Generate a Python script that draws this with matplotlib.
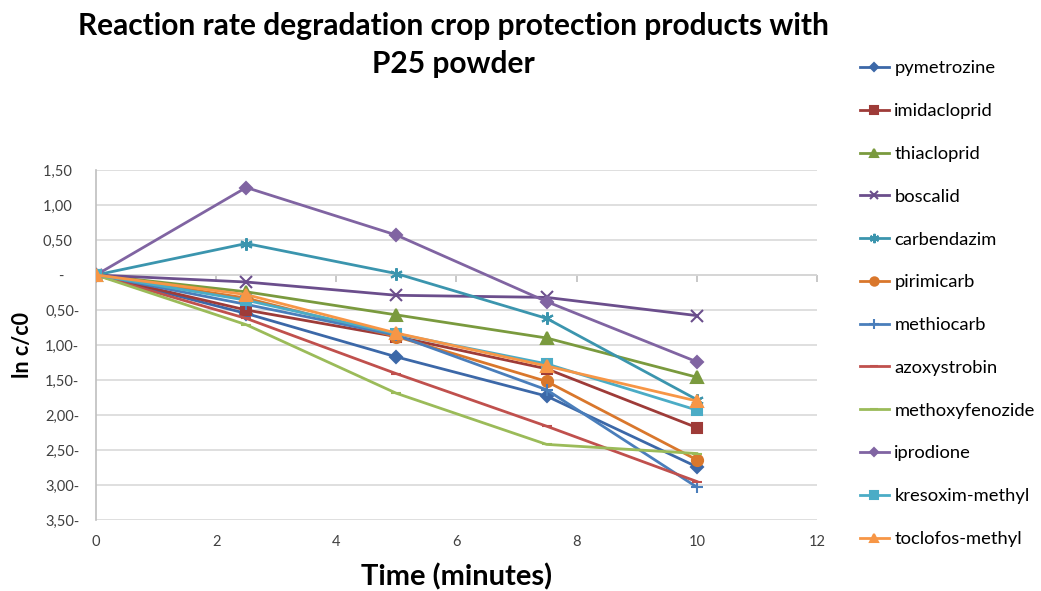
import matplotlib
matplotlib.use("Agg")
import matplotlib.pyplot as plt
from matplotlib.ticker import FixedLocator, FuncFormatter

plt.rcParams['font.family'] = ['Lato', 'DejaVu Sans']

# Sampling times (minutes)
time_min = [0, 2.5, 5, 7.5, 10]

# ln(c/c0) per compound
pymetrozine = [0, -0.55, -1.17, -1.73, -2.74]
imidacloprid = [0, -0.50, -0.88, -1.34, -2.18]
thiacloprid = [0, -0.24, -0.57, -0.90, -1.46]
boscalid = [0, -0.10, -0.29, -0.32, -0.58]
carbendazim = [0, 0.45, 0.02, -0.62, -1.78]
pirimicarb = [0, -0.33, -0.88, -1.52, -2.64]
methiocarb = [0, -0.42, -0.86, -1.64, -3.03]
azoxystrobin = [0, -0.62, -1.41, -2.16, -2.95]
methoxyfenozide = [0, -0.71, -1.69, -2.42, -2.55]
iprodione = [0, 1.25, 0.57, -0.38, -1.24]
kresoxim_methyl = [0, -0.36, -0.84, -1.27, -1.93]
toclofos_methyl = [0, -0.28, -0.83, -1.30, -1.80]

names = ["pymetrozine", "imidacloprid", "thiacloprid", "boscalid", "carbendazim",
         "pirimicarb", "methiocarb", "azoxystrobin", "methoxyfenozide", "iprodione",
         "kresoxim-methyl", "toclofos-methyl"]
series = [pymetrozine, imidacloprid, thiacloprid, boscalid, carbendazim,
          pirimicarb, methiocarb, azoxystrobin, methoxyfenozide, iprodione,
          kresoxim_methyl, toclofos_methyl]

colors = ["#3C68A8", "#9E3B38", "#7A9A3E", "#6B4E8C", "#3B95AE", "#D9772C",
          "#4A7EBB", "#C0504D", "#9BBB59", "#8064A2", "#4BACC6", "#F79646"]
markers = ["D", "s", "^", "x", (6, 2, 0), "o", "+", "_", "_", "D", "s", "^"]
msizes = [6, 7, 8, 8, 9, 8, 9, 7, 7, 6, 7, 8]

fig = plt.figure(figsize=(10.41, 5.91), dpi=100)
ax = fig.add_axes([96 / 1041, 1 - 520 / 591, (817 - 96) / 1041, (520 - 170) / 591])

for name, vals, c, m, ms in zip(names, series, colors, markers, msizes):
    ax.plot(time_min, vals, color=c, lw=2, marker=m, ms=ms, mew=1.5,
            mec=c, mfc=c, label=name, zorder=3)

ax.set_xlim(0, 12)
ax.set_ylim(-3.5, 1.5)
ax.xaxis.set_major_locator(FixedLocator([0, 2, 4, 6, 8, 10, 12]))
ax.yaxis.set_major_locator(FixedLocator([1.5, 1.0, 0.5, 0, -0.5, -1.0, -1.5,
                                         -2.0, -2.5, -3.0, -3.5]))

NBSP = "\u00a0"


def ylab(v, pos):
    if abs(v) < 1e-9:
        return "-" + NBSP * 4
    s = f"{abs(v):.2f}".replace(".", ",")
    return s + ("-" if v < 0 else NBSP * 2)


ax.yaxis.set_major_formatter(FuncFormatter(ylab))
ax.grid(axis="y", color="#D9D9D9", lw=1.2, zorder=0)
for sp in ["top", "right", "bottom"]:
    ax.spines[sp].set_visible(False)
ax.spines["left"].set_color("#BFBFBF")
ax.spines["left"].set_linewidth(1.2)
ax.tick_params(axis="y", length=0, labelsize=10.5, colors="#404040", pad=12)
ax.tick_params(axis="x", length=0, labelsize=10.5, colors="#404040", pad=11)

# horizontal axis line crossing at zero, with tick marks
ax.axhline(0, color="#BFBFBF", lw=1.2, zorder=1)
sec = ax.secondary_xaxis(0.7)
sec.xaxis.set_major_locator(FixedLocator([2, 4, 6, 8, 10, 12]))
sec.tick_params(axis="x", length=5, width=1.2, color="#BFBFBF", labelbottom=False,
                labeltop=False, direction="out")
sec.spines["top"].set_visible(False)
sec.spines["bottom"].set_visible(False)
sec.xaxis.set_ticks_position("bottom")
sec.set_xticklabels([])

ax.set_xlabel("Time (minutes)", fontsize=21, fontweight="bold", labelpad=10)
ax.set_ylabel("ln c/c0", fontsize=15.5, fontweight="bold", labelpad=7)

fig.text(453 / 1041, 1 - 45 / 591,
         "Reaction rate degradation crop protection products with\nP25 powder",
         ha="center", va="center", fontsize=21.5, fontweight="bold",
         linespacing=1.4)

leg = fig.legend(loc="upper left", bbox_to_anchor=(843 / 1041, 1 - 44 / 591),
                 frameon=False, fontsize=13.2, labelspacing=1.46,
                 handlelength=1.6, handletextpad=0.3, markerscale=0.75)

fig.savefig("out.png", dpi=100)
